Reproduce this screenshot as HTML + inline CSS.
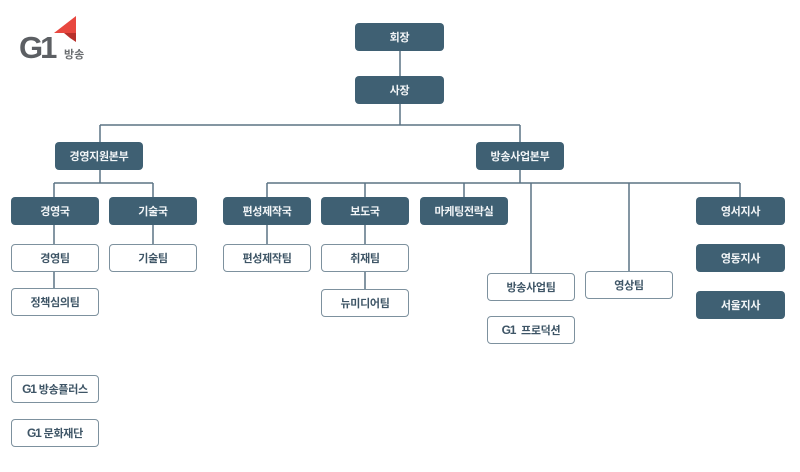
<!DOCTYPE html>
<html>
<head>
<meta charset="utf-8">
<style>
  html, body { margin:0; padding:0; background:#ffffff; }
  body { width:800px; height:472px; position:relative; overflow:hidden;
         font-family:"Liberation Sans","Noto Sans CJK KR","NanumGothic",sans-serif; }
  .b { position:absolute; box-sizing:border-box; height:28px; border-radius:4px;
       display:flex; align-items:center; justify-content:center;
       font-size:11px; font-weight:700; letter-spacing:-0.3px; white-space:nowrap; }
  .d { background:#3f6073; color:#f2f5f7; }
  .o { background:#ffffff; border:1px solid #7d919e; color:#3e5566; }
  .g1 { font-family:"Liberation Sans",sans-serif; font-weight:700; letter-spacing:-1.2px; margin-right:3px; font-size:12px; }
  svg.lines { position:absolute; left:0; top:0; }
</style>
</head>
<body>
<svg class="lines" width="800" height="472" viewBox="0 0 800 472">
  <g stroke="#5b7384" stroke-width="1.5" fill="none">
    <line x1="400" y1="51" x2="400" y2="76"/>
    <line x1="400" y1="104" x2="400" y2="125"/>
    <line x1="100" y1="125" x2="520" y2="125"/>
    <line x1="100" y1="125" x2="100" y2="142"/>
    <line x1="520" y1="125" x2="520" y2="142"/>
    <line x1="100" y1="170" x2="100" y2="183"/>
    <line x1="54" y1="183" x2="153" y2="183"/>
    <line x1="54" y1="183" x2="54" y2="197"/>
    <line x1="153" y1="183" x2="153" y2="197"/>
    <line x1="54" y1="225" x2="54" y2="244"/>
    <line x1="54" y1="272" x2="54" y2="288"/>
    <line x1="153" y1="225" x2="153" y2="244"/>
    <line x1="520" y1="170" x2="520" y2="183"/>
    <line x1="267" y1="183" x2="740" y2="183"/>
    <line x1="267" y1="183" x2="267" y2="197"/>
    <line x1="365" y1="183" x2="365" y2="197"/>
    <line x1="464" y1="183" x2="464" y2="197"/>
    <line x1="531" y1="183" x2="531" y2="273"/>
    <line x1="629" y1="183" x2="629" y2="271"/>
    <line x1="740" y1="183" x2="740" y2="197"/>
    <line x1="267" y1="225" x2="267" y2="244"/>
    <line x1="365" y1="225" x2="365" y2="244"/>
    <line x1="365" y1="272" x2="365" y2="289"/>
  </g>
  <!-- logo -->
  <polygon points="54,33 76,16 76,33" fill="#e8473f"/>
  <polygon points="64,33 76,33 76,42 70,38" fill="#b8302b"/>
  <text x="19" y="58" font-family="Liberation Sans, sans-serif" font-weight="700" font-size="31" fill="#5c5f63" letter-spacing="-3">G1</text>
  <text x="64" y="58" font-family="Liberation Sans, Noto Sans CJK KR, sans-serif" font-weight="700" font-size="11" fill="#6a6d70">방송</text>
</svg>

<div class="b d" style="left:355px;top:23px;width:89px;">회장</div>
<div class="b d" style="left:355px;top:76px;width:89px;">사장</div>
<div class="b d" style="left:55px;top:142px;width:88px;">경영지원본부</div>
<div class="b d" style="left:476px;top:142px;width:88px;">방송사업본부</div>
<div class="b d" style="left:11px;top:197px;width:88px;">경영국</div>
<div class="b d" style="left:109px;top:197px;width:88px;">기술국</div>
<div class="b d" style="left:223px;top:197px;width:88px;">편성제작국</div>
<div class="b d" style="left:321px;top:197px;width:88px;">보도국</div>
<div class="b d" style="left:420px;top:197px;width:88px;">마케팅전략실</div>
<div class="b d" style="left:696px;top:197px;width:89px;">영서지사</div>
<div class="b d" style="left:696px;top:244px;width:89px;">영동지사</div>
<div class="b d" style="left:696px;top:291px;width:89px;">서울지사</div>

<div class="b o" style="left:11px;top:244px;width:88px;">경영팀</div>
<div class="b o" style="left:109px;top:244px;width:88px;">기술팀</div>
<div class="b o" style="left:11px;top:288px;width:88px;">정책심의팀</div>
<div class="b o" style="left:223px;top:244px;width:88px;">편성제작팀</div>
<div class="b o" style="left:321px;top:244px;width:88px;">취재팀</div>
<div class="b o" style="left:321px;top:289px;width:88px;">뉴미디어팀</div>
<div class="b o" style="left:487px;top:273px;width:88px;">방송사업팀</div>
<div class="b o" style="left:585px;top:271px;width:88px;">영상팀</div>
<div class="b o" style="left:487px;top:316px;width:88px;"><span class="g1">G1</span>&nbsp;프로덕션</div>
<div class="b o" style="left:11px;top:375px;width:88px;"><span class="g1">G1</span>방송플러스</div>
<div class="b o" style="left:11px;top:419px;width:88px;"><span class="g1">G1</span>문화재단</div>
</body>
</html>
